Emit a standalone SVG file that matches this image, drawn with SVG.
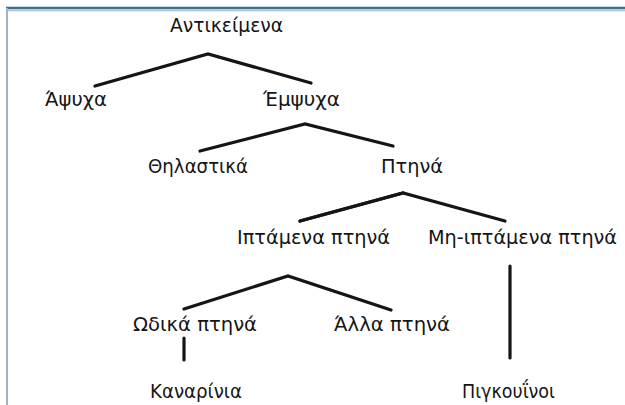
<svg xmlns="http://www.w3.org/2000/svg" width="625" height="405" viewBox="0 0 625 405">
<style>
text{font-family:"DejaVu Sans","Noto Sans",sans-serif;font-size:20px;fill:#151515}
.c line,.c polyline{stroke:#151515;stroke-width:3.2;fill:none;stroke-linecap:round;stroke-linejoin:miter}
</style>
<rect width="625" height="405" fill="#fff"/>
<g id="frame">
<line x1="6" y1="8" x2="625" y2="8" stroke="#3d7090" stroke-width="2.5"/>
<line x1="6" y1="10.5" x2="625" y2="10.5" stroke="#a8c2d2" stroke-width="1.5"/>
<line x1="7" y1="8" x2="7" y2="405" stroke="#9db6c6" stroke-width="2"/>
</g>
<g class="c" id="connectors">
<polyline points="95,86 208,54 311,83"/>
<polyline points="200,151 305,124 393,146"/>
<polyline points="300,221 403,193 505,221"/>
<line x1="300" y1="221" x2="403" y2="193" stroke-width="4.8"/>
<polyline points="184,309 288,276 391,310"/>
<line x1="510" y1="266" x2="510" y2="358"/>
<line x1="184" y1="338" x2="184" y2="360"/>
</g>
<g id="n-antikeimena"><text x="170" y="32" textLength="113" lengthAdjust="spacingAndGlyphs">Αντικείμενα</text></g>
<g id="n-apsyxa"><text x="45" y="106" textLength="62" lengthAdjust="spacingAndGlyphs">Άψυχα</text></g>
<g id="n-empsyxa"><text x="263" y="106" textLength="77" lengthAdjust="spacingAndGlyphs">Έμψυχα</text></g>
<g id="n-thilastika"><text x="148" y="173" textLength="100" lengthAdjust="spacingAndGlyphs">Θηλαστικά</text></g>
<g id="n-ptina"><text x="381" y="173" textLength="62" lengthAdjust="spacingAndGlyphs">Πτηνά</text></g>
<g id="n-iptamena"><text x="237" y="244" textLength="153" lengthAdjust="spacingAndGlyphs">Ιπτάμενα πτηνά</text></g>
<g id="n-mi-iptamena"><text x="428" y="244" textLength="189" lengthAdjust="spacingAndGlyphs">Μη-ιπτάμενα πτηνά</text></g>
<g id="n-odika"><text x="133" y="331" textLength="124" lengthAdjust="spacingAndGlyphs">Ωδικά πτηνά</text></g>
<g id="n-alla"><text x="334" y="331" textLength="116" lengthAdjust="spacingAndGlyphs">Άλλα πτηνά</text></g>
<g id="n-kanarinia"><text x="150" y="398" textLength="92" lengthAdjust="spacingAndGlyphs">Καναρίνια</text></g>
<g id="n-pigkouinoi"><text x="462" y="398" textLength="93" lengthAdjust="spacingAndGlyphs">Πιγκουΐνοι</text></g>
</svg>
